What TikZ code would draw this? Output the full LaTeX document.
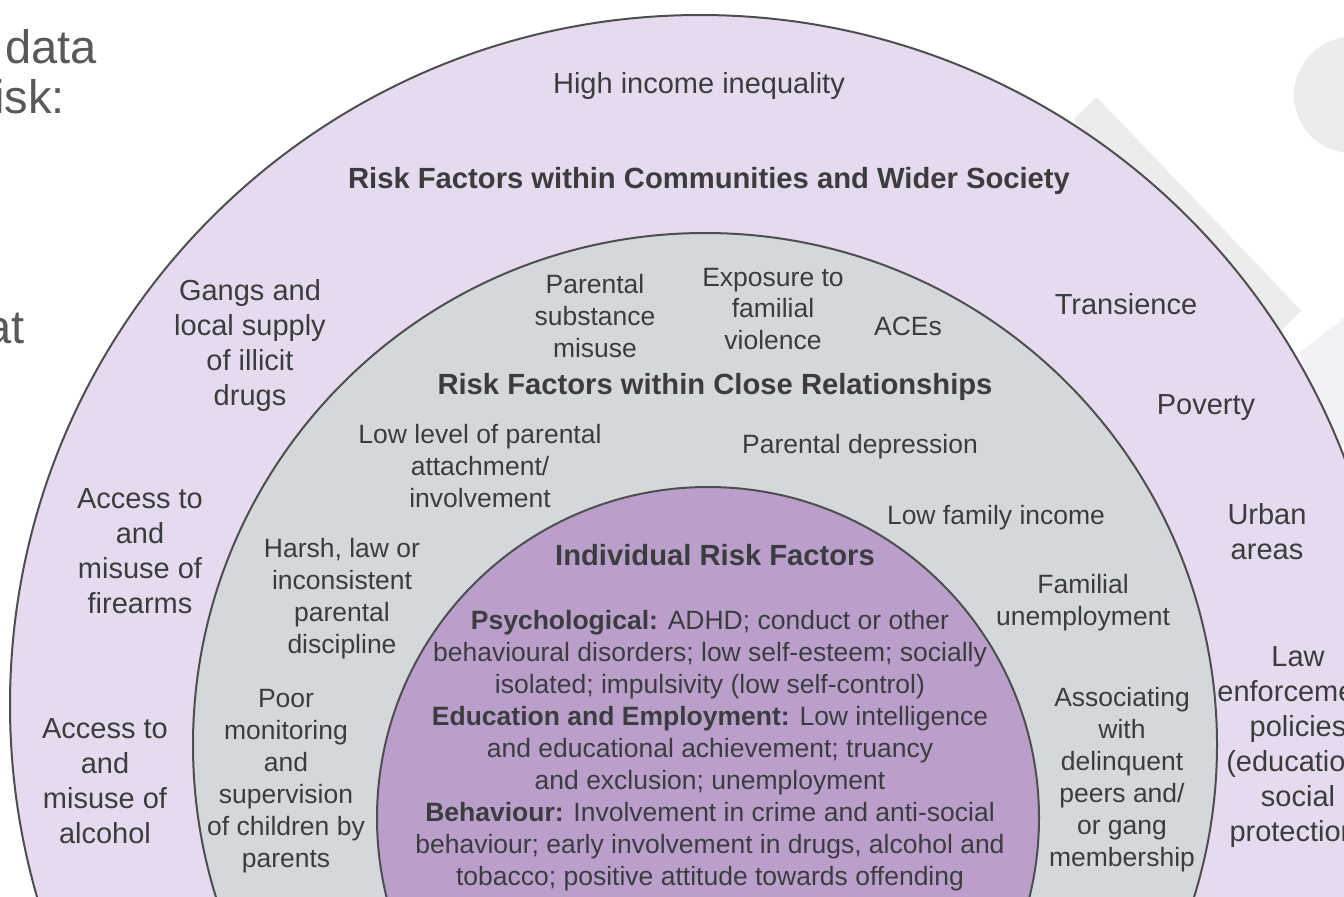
\documentclass[tikz,border=0pt]{standalone}
\usepackage{fontspec}
\setmainfont{Liberation Sans}
\definecolor{outerc}{HTML}{E5DAEE}
\definecolor{midc}{HTML}{D5D8DB}
\definecolor{innerc}{HTML}{BA9FCB}
\definecolor{ringline}{HTML}{4E4E50}
\definecolor{textc}{HTML}{3C3C3E}
\definecolor{slidetext}{HTML}{595959}
\definecolor{decog}{HTML}{ECECEC}
\definecolor{decol}{HTML}{F4F0F7}
\begin{document}
\begin{tikzpicture}[x=0.5pt,y=-0.5pt,
  otxt/.style={text=textc, align=center, font=\fontsize{14.5}{17.5}\selectfont, inner sep=0pt},
  mtxt/.style={text=textc, align=center, font=\fontsize{13.25}{16}\selectfont, inner sep=0pt},
  head/.style={text=textc, align=center, font=\fontsize{14.6}{17.5}\selectfont\bfseries, inner sep=0pt},
  slide/.style={text=slidetext, font=\fontsize{23.5}{26}\selectfont, inner sep=0pt},
  ring/.style={draw=ringline, line width=1pt}]
\path[use as bounding box] (0,0) rectangle (1344,896);
\clip (0,0) rectangle (1344,896);
\fill[white] (0,0) rectangle (1344,896);
% background slide decorations
\fill[decog] (1352,95) circle[radius=29pt];
\draw[decog, line width=16pt] (1085,108) -- (1290,322);
\fill[decol] (1300,352) -- (1344,318) -- (1344,445) -- (1322,445) -- cycle;
% slide text fragments
\node[slide, anchor=base east] (t1) at (97,63) {data};
\node[slide, anchor=base east] (t2) at (65,113) {isk:};
\node[slide, anchor=base east] (t3) at (25,343) {at};
% rings
\fill[outerc, ring] (700,705) circle[radius=345pt];
\fill[midc, ring] (705,745) circle[radius=256pt];
\fill[innerc, ring] (708,818) circle[radius=165.5pt];
% outer ring texts
\node[otxt] (hii) at (699,86) {High income inequality};
\node[head] (hcom) at (709,181) {Risk Factors within Communities and Wider Society};
\node[otxt] (gang) at (250,345) {Gangs and\\local supply\\of illicit\\drugs};
\node[otxt] (tran) at (1126,304) {Transience};
\node[otxt] (pov) at (1206,408) {Poverty};
\node[otxt] (urb) at (1267,532) {Urban\\areas};
\node[otxt] (law) at (1298,747) {Law\\enforcement\\policies\\(education,\\social\\protection)};
\node[otxt] (fire) at (140,551) {Access to\\and\\misuse of\\firearms};
\node[otxt] (alc) at (105,781) {Access to\\and\\misuse of\\alcohol};
% middle ring texts
\node[head] (hrel) at (715,387) {Risk Factors within Close Relationships};
\node[mtxt] (psm) at (595,316) {Parental\\substance\\misuse};
\node[mtxt] (efv) at (773,309) {Exposure to\\familial\\violence};
\node[mtxt] (aces) at (908,326) {ACEs};
\node[mtxt] (lpa) at (480,466) {Low level of parental\\attachment/\\involvement};
\node[mtxt] (pdep) at (860,447) {Parental depression};
\node[mtxt] (lfi) at (996,518) {Low family income};
\node[mtxt] (harsh) at (342,599) {Harsh, law or\\inconsistent\\parental\\discipline};
\node[mtxt] (fun) at (1083,603) {Familial\\unemployment};
\node[mtxt] (poor) at (286,781) {Poor\\monitoring\\and\\supervision\\of children by\\parents};
\node[mtxt] (assoc) at (1122,780) {Associating\\with\\delinquent\\peers and/\\or gang\\membership};
% inner texts
\node[head] (hind) at (715,555) {Individual Risk Factors};
\node[mtxt] (ind) at (710,751) {\textbf{Psychological:} ADHD; conduct or other\\
behavioural disorders; low self-esteem; socially\\
isolated; impulsivity (low self-control)\\
\textbf{Education and Employment:} Low intelligence\\
and educational achievement; truancy\\
and exclusion; unemployment\\
\textbf{Behaviour:} Involvement in crime and anti-social\\
behaviour; early involvement in drugs, alcohol and\\
tobacco; positive attitude towards offending};
\end{tikzpicture}
\end{document}
